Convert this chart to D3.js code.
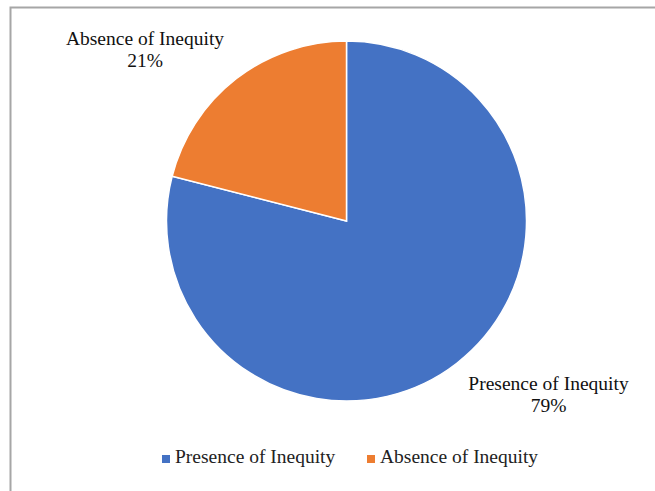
<!DOCTYPE html>
<html><head><meta charset="utf-8">
<script src="https://cdn.jsdelivr.net/npm/d3@7"></script>
<style>html,body{margin:0;padding:0;background:#fff;}</style>
</head><body>
<script>
const categories = ["Presence of Inequity", "Absence of Inequity"];
const values = [79, 21];
const colors = ["#4472C4", "#ED7D31"];
const labelText = ["79%", "21%"];

const W = 655, H = 491;
const svg = d3.select("body").append("svg").attr("width", W).attr("height", H);
// frame
svg.append("path").attr("d", `M10.5,${H} L10.5,7.5 L${W},7.5`).attr("fill","none").attr("stroke","#a6a6a6").attr("stroke-width",2);

const cx = 346.5, cy = 221, r = 180;
const pie = d3.pie().sort(null).value(d => d)(values);
const arc = d3.arc().innerRadius(0).outerRadius(r);
const g = svg.append("g").attr("transform", `translate(${cx},${cy})`);
g.selectAll("path").data(pie).enter().append("path")
  .attr("d", arc).attr("fill", (d,i) => colors[i])
  .attr("stroke", "#fff").attr("stroke-width", 1.5);

const font = "'Liberation Serif','Times New Roman',serif";
// data labels
const labelPos = [[548.5, 390], [145, 45]];
categories.forEach((c, i) => {
  const t = svg.append("text").attr("font-family", font).attr("font-size", 19.5)
    .attr("fill", "#111").attr("text-anchor", "middle");
  t.append("tspan").attr("x", labelPos[i][0]).attr("y", labelPos[i][1]).text(c);
  t.append("tspan").attr("x", labelPos[i][0]).attr("y", labelPos[i][1] + 22).text(labelText[i]);
});

// legend
const legX = [162, 367];
categories.forEach((c, i) => {
  svg.append("rect").attr("x", legX[i]).attr("y", 455).attr("width", 8).attr("height", 8).attr("fill", colors[i]);
  svg.append("text").attr("x", legX[i] + 13).attr("y", 463).attr("font-family", font)
    .attr("font-size", 19.5).attr("fill", "#222").text(c);
});
</script>
</body></html>
